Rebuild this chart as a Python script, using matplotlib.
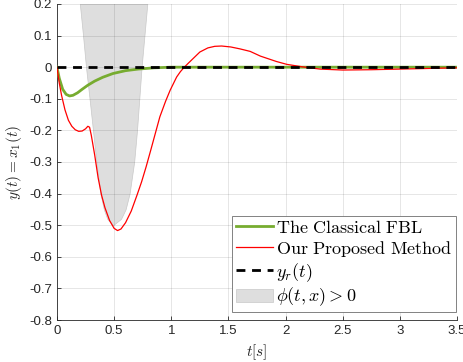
import matplotlib
matplotlib.use("Agg")
import matplotlib.pyplot as plt

# tiempo y respuesta del FBL clásico
t_fbl = [0, 0.02, 0.05, 0.08, 0.11, 0.14, 0.18, 0.22, 0.27, 0.33, 0.40,
         0.49, 0.60, 0.71, 0.85, 1.0, 3.5]
y_fbl = [0, -0.035, -0.07, -0.086, -0.091, -0.089, -0.081, -0.07, -0.057,
         -0.044, -0.032, -0.02, -0.011, -0.006, -0.002, 0, 0]

# método propuesto
t_prop = [0, 0.02, 0.04, 0.07, 0.10, 0.13, 0.16, 0.19, 0.22, 0.25, 0.27,
          0.285, 0.30, 0.33, 0.36, 0.39, 0.42, 0.46, 0.50, 0.53, 0.56, 0.60,
          0.65, 0.70, 0.74, 0.78, 0.82, 0.86, 0.90, 0.95, 0.99, 1.047, 1.08,
          1.114, 1.15, 1.19, 1.25, 1.32, 1.38, 1.44, 1.52, 1.60, 1.69, 1.78,
          1.92, 2.01, 2.15, 2.30, 2.50, 2.75, 3.00, 3.25, 3.50]
y_prop = [0, -0.05, -0.089, -0.135, -0.168, -0.187, -0.198, -0.203, -0.202,
          -0.195, -0.187, -0.19, -0.215, -0.278, -0.35, -0.405, -0.445,
          -0.485, -0.510, -0.517, -0.512, -0.492, -0.455, -0.405, -0.363,
          -0.315, -0.263, -0.21, -0.157, -0.108, -0.073, -0.031, -0.014,
          0.0, 0.013, 0.027, 0.048, 0.061, 0.066, 0.067, 0.064, 0.058,
          0.050, 0.035, 0.018, 0.009, 0.001, -0.006, -0.009, -0.008, -0.006,
          -0.004, -0.002]

# referencia
t_ref = [0, 3.5]
y_ref = [0, 0]

# región phi(t, x) > 0
shade_y = [0.2, 0.1, 0.0, -0.1, -0.2, -0.3, -0.4, -0.45, -0.48, -0.5]
shade_left = [0.20, 0.228, 0.254, 0.285, 0.315, 0.345, 0.38, 0.41, 0.44, 0.49]
shade_right = [0.79, 0.765, 0.74, 0.72, 0.70, 0.675, 0.635, 0.60, 0.56, 0.49]

xticks = [0, 0.5, 1, 1.5, 2, 2.5, 3, 3.5]
xtick_labels = ["0", "0.5", "1", "1.5", "2", "2.5", "3", "3.5"]
yticks = [0.2, 0.1, 0, -0.1, -0.2, -0.3, -0.4, -0.5, -0.6, -0.7, -0.8]
ytick_labels = ["0.2", "0.1", "0", "-0.1", "-0.2", "-0.3", "-0.4", "-0.5",
                "-0.6", "-0.7", "-0.8"]

plt.rcParams["font.family"] = ["Liberation Sans", "DejaVu Sans"]
plt.rcParams["mathtext.fontset"] = "cm"

fig = plt.figure(figsize=(4.64, 3.62), dpi=100)
ax = fig.add_axes([0.1228, 0.116, 0.8622, 0.873])

ax.fill_betweenx(shade_y, shade_left, shade_right, facecolor="#dedede",
                 edgecolor="#c8c8c8", linewidth=0.5,
                 label=r"$\phi(t,x) > 0$", zorder=1)
ax.plot(t_fbl, y_fbl, color="#77ac30", linewidth=2.0,
        label=r"$\mathrm{The\ Classical\ FBL}$", zorder=3)
ax.plot(t_prop, y_prop, color="#ff0000", linewidth=0.9,
        label=r"$\mathrm{Our\ Proposed\ Method}$", zorder=4)
ax.plot(t_ref, y_ref, color="black", linewidth=2.0, linestyle=(0, (3.2, 2.4)),
        label=r"$y_r(t)$", zorder=5)

ax.set_xlim(0, 3.5)
ax.set_ylim(-0.8, 0.2)
ax.set_xticks(xticks)
ax.set_xticklabels(xtick_labels)
ax.set_yticks(yticks)
ax.set_yticklabels(ytick_labels)
ax.tick_params(direction="in", length=3, labelsize=9.5, colors="#262626",
               width=0.6)
ax.set_axisbelow("line")
ax.grid(True, color="black", alpha=0.1, linewidth=0.7)

for side in ["top", "right"]:
    ax.spines[side].set_visible(False)
for side in ["left", "bottom"]:
    ax.spines[side].set_color("#262626")
    ax.spines[side].set_linewidth(0.6)

ax.set_xlabel(r"$t[s]$", fontsize=11, color="#262626")
ax.set_ylabel(r"$y(t) = x_1(t)$", fontsize=11, color="#262626")

handles, labels = ax.get_legend_handles_labels()
order = [1, 2, 3, 0]
leg = ax.legend([handles[i] for i in order], [labels[i] for i in order],
                loc="lower right", bbox_to_anchor=(0.998, 0.025),
                fontsize=13, fancybox=False, framealpha=1,
                edgecolor="#6e6e6e", handlelength=2.05,
                handletextpad=0.2, borderpad=0.2, labelspacing=0.12,
                borderaxespad=0)
leg.get_frame().set_linewidth(0.6)

fig.savefig("out.png", dpi=100)
